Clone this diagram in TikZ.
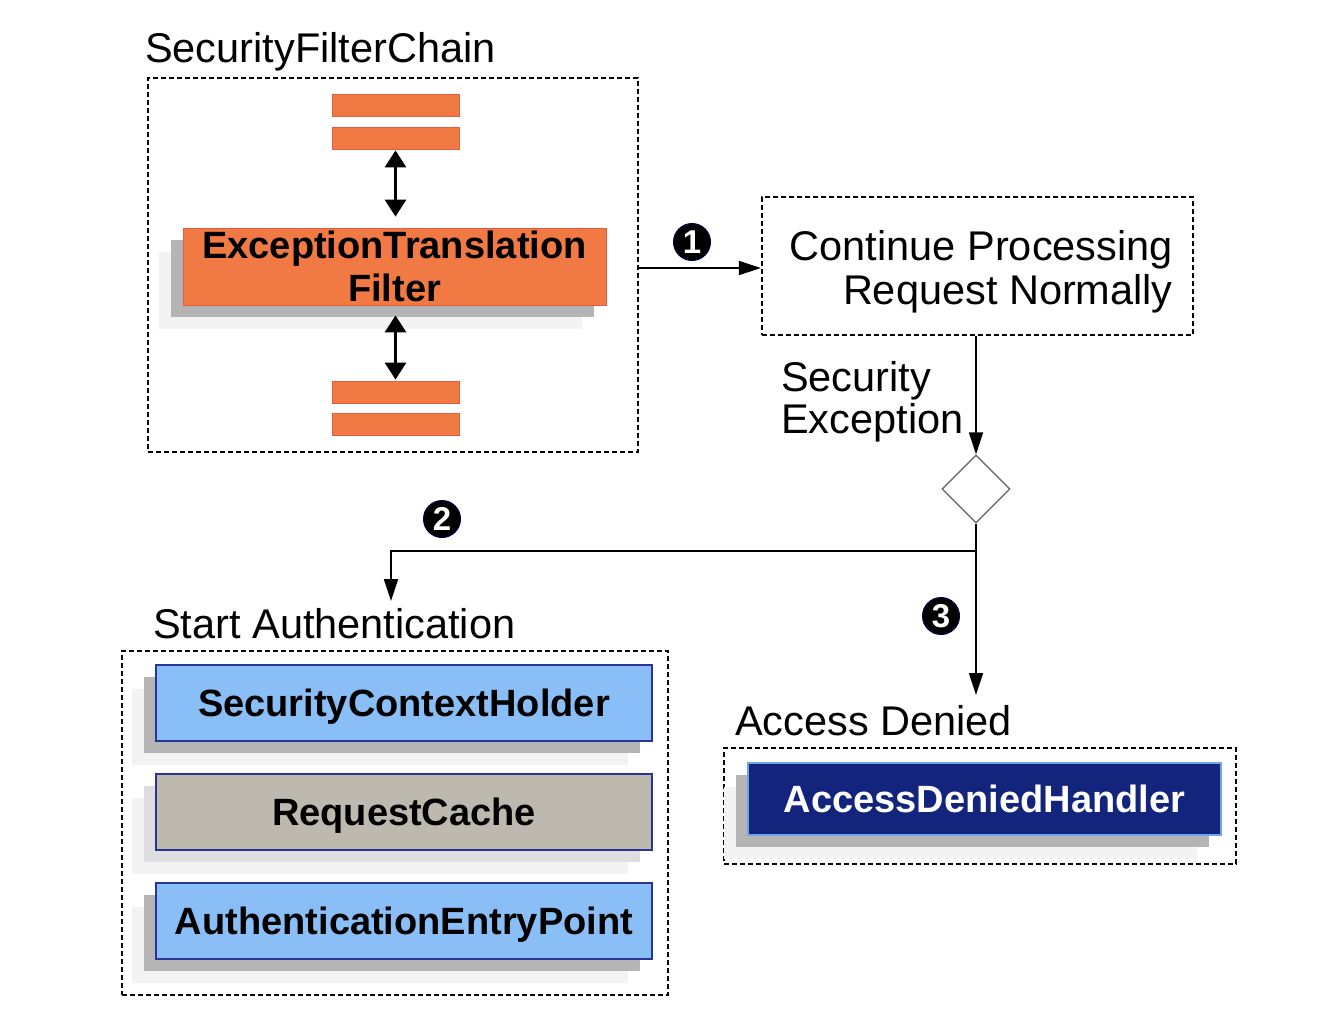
\documentclass[tikz,border=0pt]{standalone}
\usepackage{fontspec}
\setmainfont{Liberation Sans}
\usetikzlibrary{arrows.meta,shapes.geometric,shadows}
\definecolor{orfill}{RGB}{241,122,68}
\definecolor{ordraw}{RGB}{232,92,62}
\definecolor{bluefill}{RGB}{137,191,246}
\definecolor{bluedraw}{RGB}{40,52,150}
\definecolor{beigefill}{RGB}{190,185,174}
\definecolor{navyfill}{RGB}{19,36,125}
\definecolor{navydraw}{RGB}{110,165,235}
\definecolor{shdark}{RGB}{180,180,180}
\definecolor{shlight}{RGB}{243,243,243}
\definecolor{shdarkB}{RGB}{222,222,222}
\definecolor{diagray}{RGB}{100,100,100}
\tikzset{
  x=1pt, y=-1pt,
  regtext/.style={font=\fontsize{41.5}{44}\selectfont, inner sep=0pt},
  boldtext/.style={font=\bfseries\fontsize{38}{43}\selectfont},
  dbox/.style={draw=black, line width=2.2pt, dash pattern=on 5pt off 3pt, rectangle, inner sep=0pt},
  twoshadow/.style={general shadow={fill=shlight, shadow xshift=-24pt, shadow yshift=-24pt},
                    general shadow={fill=shdark, shadow xshift=-12pt, shadow yshift=-12pt}},
  twoshadowB/.style={general shadow={fill=shlight, shadow xshift=-24pt, shadow yshift=-24pt},
                    general shadow={fill=shdarkB, shadow xshift=-12pt, shadow yshift=-12pt}},
  bar/.style={rectangle, fill=orfill, draw=ordraw, line width=0.8pt, minimum width=127pt, minimum height=22pt, inner sep=0pt},
  compbox/.style={rectangle, boldtext, line width=1.5pt, minimum width=496pt, minimum height=76pt, inner sep=0pt, text height=31pt, text depth=4pt},
  conn/.style={draw=black, line width=1.8pt, -{Triangle[length=22pt,width=14pt]}},
  dconn/.style={draw=black, line width=3pt, {Triangle[length=17pt,width=21pt]}-{Triangle[length=17pt,width=21pt]}},
  numcirc/.style={circle, fill=black, draw=black!70!blue, line width=1pt, minimum size=37pt, inner sep=0pt, text=white, font=\bfseries\fontsize{33}{33}\selectfont},
}
\begin{document}
\begin{tikzpicture}
\useasboundingbox (0,0) rectangle (1332,1026);

% SecurityFilterChain
\node[regtext, anchor=base west] (sfctitle) at (145,62) {SecurityFilterChain};
\node[dbox, minimum width=490pt, minimum height=374pt] (sfc) at (393,265) {};
\node[bar] (bar1) at (395.5,105) {};
\node[bar] (bar2) at (395.5,138) {};
\node[bar] (bar3) at (395.5,392) {};
\node[bar] (bar4) at (395.5,424.5) {};
\node[rectangle, fill=orfill, draw=ordraw, line width=0.8pt, minimum width=423pt, minimum height=77pt,
      inner sep=0pt, align=center, boldtext, twoshadow] (etf) at (394.5,266.5)
      {ExceptionTranslation\\Filter};
\draw[dconn, shorten <=1pt, shorten >=11pt] (bar2.south) -- (bar2.south |- etf.north);
\draw[dconn, shorten <=10pt, shorten >=1pt] (bar3.north |- etf.south) -- (bar3.north);

% Continue processing
\node[dbox, minimum width=431pt, minimum height=138pt] (cont) at (977.5,266) {};
\node[regtext, anchor=base east] (cont1) at (1173,260) {Continue Processing};
\node[regtext, anchor=base east] (cont2) at (1173,304) {Request Normally};
\draw[conn] (sfc.east |- 0,268) -- (cont.west |- 0,268);
\node[numcirc] (n1) at (692,242) {1};

% Security exception
\node[regtext, anchor=base west] (sec1) at (781,391) {Security};
\node[regtext, anchor=base west] (sec2) at (781,433) {Exception};
\node[diamond, draw=diagray, line width=1.2pt, fill=white, minimum width=68pt, minimum height=68pt, inner sep=0pt] (dia) at (976,489) {};
\draw[conn] (cont.south -| dia.north) -- (dia.north);

\coordinate (split) at (976,551);
\coordinate (saTip) at (391,601);
\coordinate (adTip) at (976,695);
\draw[line width=1.8pt] (dia.south) -- (split);
\draw[conn] (split) -| (saTip);
\draw[conn] (split) -- (adTip);
\node[numcirc] (n2) at (442,519) {2};
\node[numcirc] (n3) at (941,616) {3};

% Start Authentication
\node[regtext, anchor=base west] (satitle) at (153,638) {Start Authentication};
\node[dbox, minimum width=546pt, minimum height=344pt] (sa) at (395,823) {};
\node[compbox, fill=bluefill, draw=bluedraw, twoshadow] (sch) at (404,703) {SecurityContextHolder};
\node[compbox, fill=beigefill, draw=bluedraw, twoshadowB] (rc) at (404,812) {RequestCache};
\node[compbox, fill=bluefill, draw=bluedraw, twoshadow] (aep) at (404,921) {AuthenticationEntryPoint};

% Access Denied
\node[regtext, anchor=base west] (adtitle) at (735,735) {Access Denied};
\node[dbox, minimum width=512pt, minimum height=116pt] (ad) at (980,806) {};
\node[compbox, minimum width=473pt, minimum height=72pt, fill=navyfill, draw=navydraw, text=white, twoshadow] (adh) at (984.5,799) {AccessDeniedHandler};
\end{tikzpicture}
\end{document}
